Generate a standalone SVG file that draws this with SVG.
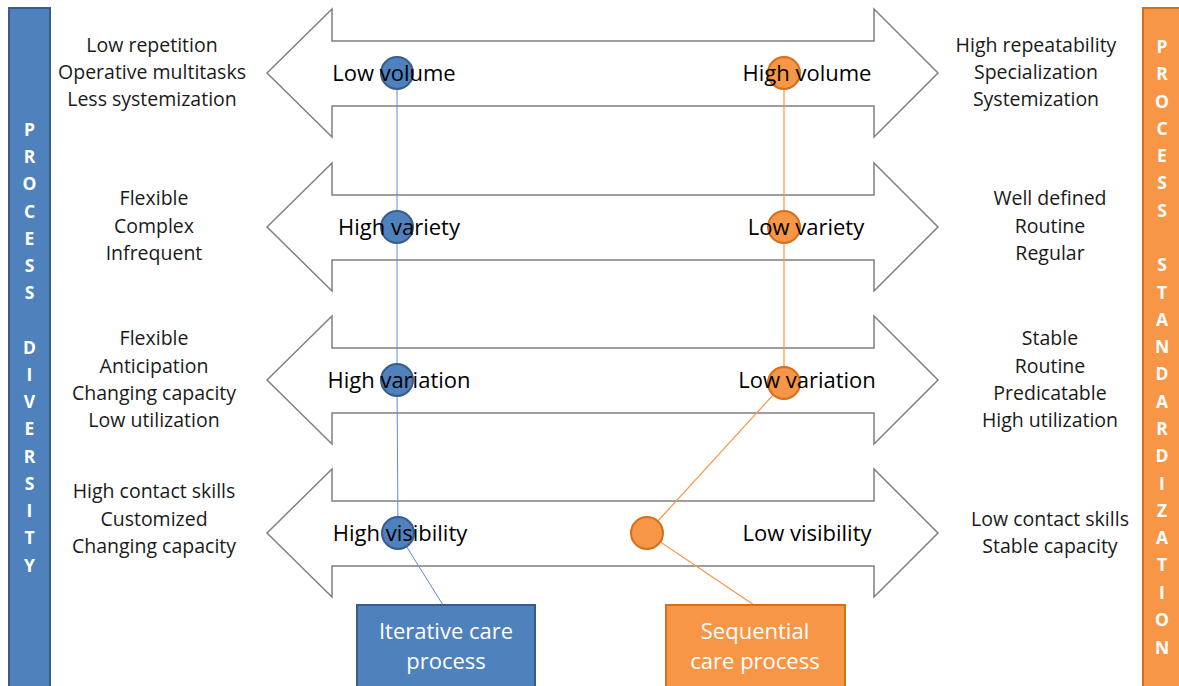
<svg xmlns="http://www.w3.org/2000/svg" width="1179" height="686" viewBox="0 0 1179 686">
  <style>
    .arrow { fill: #ffffff; stroke: #7f7f7f; stroke-width: 1.5; }
    .side { font-family: "Open Sans", "Liberation Sans", sans-serif; font-size: 19.5px; fill: #1a1a1a; text-anchor: middle; }
    .lbl { font-family: "Open Sans", "Liberation Sans", sans-serif; font-size: 22px; fill: #000000; text-anchor: middle; }
    .bar-txt { font-family: "Open Sans", "Liberation Sans", sans-serif; font-size: 17.5px; font-weight: 700; fill: #ffffff; text-anchor: middle; }
    .box-txt { font-family: "Open Sans", "Liberation Sans", sans-serif; font-size: 22px; fill: #ffffff; text-anchor: middle; }
    .blue { fill: #4f81bd; stroke: #385d8a; stroke-width: 2; }
    .orange { fill: #f79646; stroke: #d46f1c; stroke-width: 2; }
    .link-b { stroke: #5b8ed0; stroke-width: 1; fill: none; }
    .link-o { stroke: #f79646; stroke-width: 1.2; fill: none; }
  </style>
  <defs>
    <!-- double-headed block arrow centred on y = 0 -->
    <path id="dbl" d="M267,0 L332,-64 L332,-32 L874,-32 L874,-64 L938,0 L874,64 L874,33 L332,33 L332,64 Z"/>
  </defs>

  <rect width="1179" height="686" fill="#ffffff"/>

  <!-- side bars -->
  <g id="bar-diversity">
    <rect x="9" y="8" width="41" height="690" class="blue"/>
    <g class="bar-txt">
      <text x="29.5" y="136">P</text>
      <text x="29.5" y="163">R</text>
      <text x="29.5" y="190">O</text>
      <text x="29.5" y="218">C</text>
      <text x="29.5" y="245">E</text>
      <text x="29.5" y="272">S</text>
      <text x="29.5" y="299">S</text>
      <text x="29.5" y="354">D</text>
      <text x="29.5" y="381">I</text>
      <text x="29.5" y="408">V</text>
      <text x="29.5" y="435">E</text>
      <text x="29.5" y="463">R</text>
      <text x="29.5" y="490">S</text>
      <text x="29.5" y="517">I</text>
      <text x="29.5" y="544">T</text>
      <text x="29.5" y="572">Y</text>
    </g>
  </g>
  <g id="bar-standardization">
    <rect x="1143" y="8" width="42" height="690" class="orange"/>
    <g class="bar-txt">
      <text x="1162" y="53">P</text>
      <text x="1162" y="80">R</text>
      <text x="1162" y="108">O</text>
      <text x="1162" y="135">C</text>
      <text x="1162" y="162">E</text>
      <text x="1162" y="189">S</text>
      <text x="1162" y="217">S</text>
      <text x="1162" y="271">S</text>
      <text x="1162" y="299">T</text>
      <text x="1162" y="326">A</text>
      <text x="1162" y="353">N</text>
      <text x="1162" y="380">D</text>
      <text x="1162" y="408">A</text>
      <text x="1162" y="435">R</text>
      <text x="1162" y="462">D</text>
      <text x="1162" y="490">I</text>
      <text x="1162" y="517">Z</text>
      <text x="1162" y="544">A</text>
      <text x="1162" y="571">T</text>
      <text x="1162" y="599">I</text>
      <text x="1162" y="626">O</text>
      <text x="1162" y="654">N</text>
    </g>
  </g>

  <!-- scale arrows -->
  <g id="arrow-volume"><use href="#dbl" class="arrow" transform="translate(0,73)"/></g>
  <g id="arrow-variety"><use href="#dbl" class="arrow" transform="translate(0,227)"/></g>
  <g id="arrow-variation"><use href="#dbl" class="arrow" transform="translate(0,380)"/></g>
  <g id="arrow-visibility"><use href="#dbl" class="arrow" transform="translate(0,533)"/></g>

  <!-- connectors -->
  <g id="connectors">
    <polyline class="link-b" points="397,73 397,227 397,380 398,533 443,605"/>
    <polyline class="link-o" points="784,73 784,227 784,383 647,533 754,605"/>
  </g>

  <!-- position markers -->
  <g id="markers-iterative">
    <circle cx="397" cy="73" r="16" class="blue"/>
    <circle cx="397" cy="227" r="16" class="blue"/>
    <circle cx="397" cy="380" r="16" class="blue"/>
    <circle cx="398" cy="533" r="16" class="blue"/>
  </g>
  <g id="markers-sequential">
    <circle cx="784" cy="73" r="16" class="orange"/>
    <circle cx="784" cy="227" r="16" class="orange"/>
    <circle cx="784" cy="383" r="16" class="orange"/>
    <circle cx="647" cy="533" r="16" class="orange"/>
  </g>

  <!-- arrow end labels -->
  <g id="labels-arrows" class="lbl">
    <text x="394" y="81">Low volume</text>
    <text x="807" y="81">High volume</text>
    <text x="399" y="235">High variety</text>
    <text x="806" y="235">Low variety</text>
    <text x="399" y="388">High variation</text>
    <text x="807" y="388">Low variation</text>
    <text x="400" y="541">High visibility</text>
    <text x="807" y="541">Low visibility</text>
  </g>

  <!-- characteristics, left side -->
  <g id="traits-left" class="side">
    <text x="152" y="52">Low repetition</text>
    <text x="152" y="79">Operative  multitasks</text>
    <text x="152" y="106">Less systemization</text>
    <text x="154" y="205">Flexible</text>
    <text x="154" y="233">Complex</text>
    <text x="154" y="260">Infrequent</text>
    <text x="154" y="345">Flexible</text>
    <text x="154" y="373">Anticipation</text>
    <text x="154" y="400">Changing capacity</text>
    <text x="154" y="427">Low utilization</text>
    <text x="154" y="498">High contact skills</text>
    <text x="154" y="526">Customized</text>
    <text x="154" y="553">Changing capacity</text>
  </g>

  <!-- characteristics, right side -->
  <g id="traits-right" class="side">
    <text x="1036" y="52">High repeatability</text>
    <text x="1036" y="79">Specialization</text>
    <text x="1036" y="106">Systemization</text>
    <text x="1050" y="205">Well defined</text>
    <text x="1050" y="233">Routine</text>
    <text x="1050" y="260">Regular</text>
    <text x="1050" y="345">Stable</text>
    <text x="1050" y="373">Routine</text>
    <text x="1050" y="400">Predicatable</text>
    <text x="1050" y="427">High utilization</text>
    <text x="1050" y="526">Low contact skills</text>
    <text x="1050" y="553">Stable capacity</text>
  </g>

  <!-- process boxes -->
  <g id="box-iterative">
    <rect x="357" y="605" width="178" height="90" class="blue"/>
    <text class="box-txt" x="446" y="639">Iterative care</text>
    <text class="box-txt" x="446" y="669">process</text>
  </g>
  <g id="box-sequential">
    <rect x="666" y="605" width="179" height="90" class="orange"/>
    <text class="box-txt" x="755" y="639">Sequential</text>
    <text class="box-txt" x="755" y="669">care process</text>
  </g>
</svg>
